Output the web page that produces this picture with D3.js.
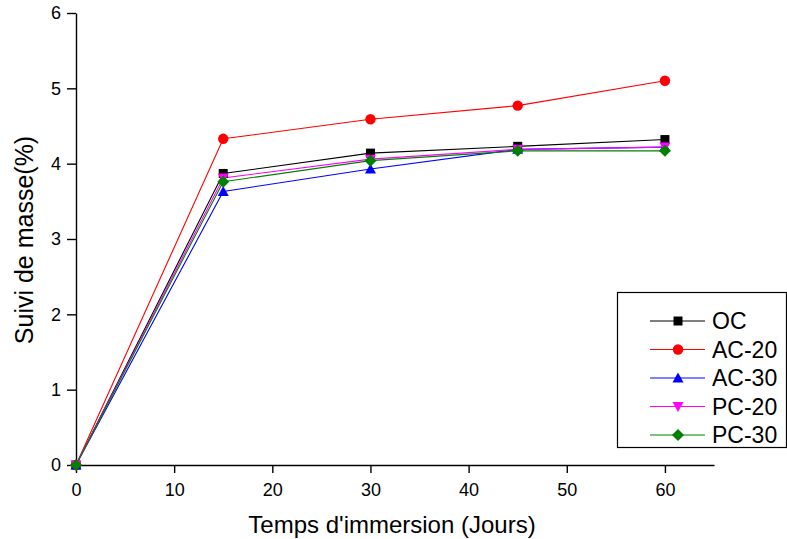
<!DOCTYPE html>
<html>
<head>
<meta charset="utf-8">
<script src="https://cdn.jsdelivr.net/npm/d3@7/dist/d3.min.js"></script>
<style>
  html, body { margin: 0; padding: 0; background: #fff; }
  text { font-family: "Liberation Sans", Arial, sans-serif; fill: #000; }
</style>
</head>
<body>
<svg id="chart" width="787" height="539"></svg>
<script>
// Immersion time in days
const days = [0, 15, 30, 45, 60];

// Mass gain (%) for each mix
const oc   = [0, 3.87, 4.14, 4.23, 4.32];
const ac20 = [0, 4.33, 4.59, 4.77, 5.10];
const ac30 = [0, 3.63, 3.93, 4.19, 4.22];
const pc20 = [0, 3.81, 4.06, 4.19, 4.22];
const pc30 = [0, 3.76, 4.04, 4.17, 4.17];

const seriesNames = ["OC", "AC-20", "AC-30", "PC-20", "PC-30"];
const seriesColors = ["#000000", "#ff0000", "#0000ff", "#ff00ff", "#008000"];
const seriesSymbols = ["square", "circle", "triangleUp", "triangleDown", "diamond"];

const xTicks = [0, 10, 20, 30, 40, 50, 60];
const yTicks = [0, 1, 2, 3, 4, 5, 6];

const series = [oc, ac20, ac30, pc20, pc30].map((vals, i) => ({
  name: seriesNames[i], color: seriesColors[i], symbol: seriesSymbols[i],
  points: vals.map((v, j) => ({ x: days[j], y: v }))
}));

const svg = d3.select("#chart");
const plotL = 76, plotR = 714, plotT = 13, plotB = 465;

const x = d3.scaleLinear().domain([0, 65]).range([plotL, plotR]);
const y = d3.scaleLinear().domain([0, 6]).range([plotB, plotT]);

// Marker shapes
function markerPath(kind) {
  switch (kind) {
    case "square": return "M-4.5,-4.5H4.5V4.5H-4.5Z";
    case "circle": return d3.symbol(d3.symbolCircle, 85)();
    case "triangleUp": return "M0,-5.5L5.5,4.5H-5.5Z";
    case "triangleDown": return "M0,5.5L5.5,-4.5H-5.5Z";
    case "diamond": return "M0,-6L6,0L0,6L-6,0Z";
  }
}

const tickFont = g => g.selectAll("text").attr("font-size", 18)
  .style("font-family", "'Liberation Sans', Arial, sans-serif");

// Axes: minor ticks first, then major with labels
const gx = svg.append("g").attr("transform", `translate(0,${plotB})`);
gx.call(d3.axisBottom(x).tickValues(d3.range(0, 66, 5)).tickSize(4).tickFormat(""))
  .call(g => g.select(".domain").remove());
gx.call(d3.axisBottom(x).tickValues(xTicks).tickSize(8).tickSizeOuter(0).tickPadding(10).tickFormat(d3.format("d")))
  .call(tickFont);

const gy = svg.append("g").attr("transform", `translate(${plotL},0)`);
gy.call(d3.axisLeft(y).tickValues(d3.range(0, 6.01, 0.5)).tickSize(4).tickFormat(""))
  .call(g => g.select(".domain").remove());
gy.call(d3.axisLeft(y).tickValues(yTicks).tickSize(9).tickSizeOuter(0).tickPadding(6).tickFormat(d3.format("d")))
  .call(tickFont);

svg.selectAll(".domain, .tick line").attr("stroke", "#000").attr("stroke-width", 1.4);

// Axis titles
svg.append("text")
  .attr("x", 392).attr("y", 533)
  .attr("text-anchor", "middle")
  .attr("font-size", 24)
  .text("Temps d'immersion (Jours)");

svg.append("text")
  .attr("transform", "translate(33,240) rotate(-90)")
  .attr("text-anchor", "middle")
  .attr("font-size", 25)
  .text("Suivi de masse(%)");

// Lines and markers
const line = d3.line().x(d => x(d.x)).y(d => y(d.y));
series.forEach(s => {
  svg.append("path").datum(s.points)
    .attr("d", line).attr("fill", "none")
    .attr("stroke", s.color).attr("stroke-width", 1.1);
});
series.forEach(s => {
  svg.append("g").selectAll("path").data(s.points).join("path")
    .attr("transform", d => `translate(${x(d.x)},${y(d.y)})`)
    .attr("d", markerPath(s.symbol))
    .attr("fill", s.color);
});

// Legend
const lg = svg.append("g");
lg.append("rect").attr("x", 617.5).attr("y", 292.5).attr("width", 169).attr("height", 155)
  .attr("fill", "#fff").attr("stroke", "#000").attr("stroke-width", 1.2);
series.forEach((s, i) => {
  const cy = 321 + i * 28.5;
  lg.append("line").attr("x1", 650).attr("x2", 705).attr("y1", cy).attr("y2", cy)
    .attr("stroke", s.color).attr("stroke-width", 1.1);
  lg.append("path").attr("transform", `translate(678,${cy})`)
    .attr("d", markerPath(s.symbol)).attr("fill", s.color);
  lg.append("text").attr("x", 712).attr("y", cy + 8)
    .attr("font-size", 23).text(s.name);
});
</script>
</body>
</html>
